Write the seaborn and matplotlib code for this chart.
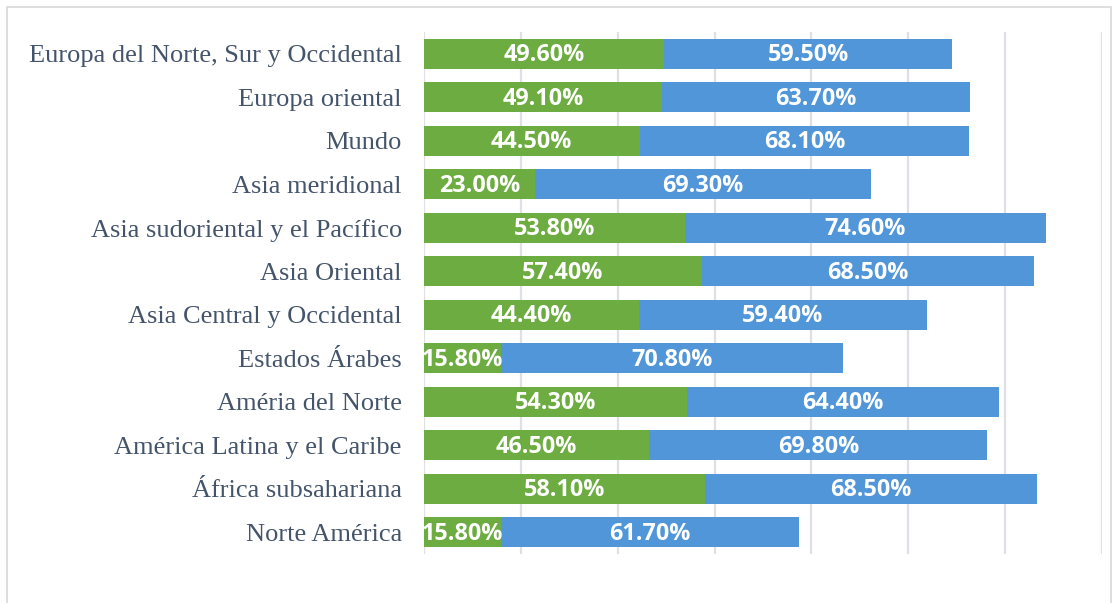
import matplotlib
matplotlib.use("Agg")
import matplotlib.pyplot as plt
import seaborn as sns
import pandas as pd
from matplotlib.patches import Rectangle

# data (top to bottom)
regiones = ["Europa del Norte, Sur y Occidental", "Europa oriental", "Mundo",
            "Asia meridional", "Asia sudoriental y el Pacífico", "Asia Oriental",
            "Asia Central y Occidental", "Estados Árabes", "Améria del Norte",
            "América Latina y el Caribe", "África subsahariana", "Norte América"]
serie_verde = [49.6, 49.1, 44.5, 23.0, 53.8, 57.4, 44.4, 15.8, 54.3, 46.5, 58.1, 15.8]
serie_azul = [59.5, 63.7, 68.1, 69.3, 74.6, 68.5, 59.4, 70.8, 64.4, 69.8, 68.5, 61.7]

df = pd.DataFrame({"region": regiones, "verde": serie_verde, "azul": serie_azul})
df["total"] = df["verde"] + df["azul"]

sns.set_style("white")

fig = plt.figure(figsize=(11.2, 6.03), dpi=100)
ax = fig.add_axes([0.3786, 0.0813, 0.6054, 0.8657])

# stacked: total in blue, then green on top
sns.barplot(data=df, x="total", y="region", orient="h", color="#5096d8",
            width=0.69, saturation=1, linewidth=0, ax=ax, zorder=2)
sns.barplot(data=df, x="verde", y="region", orient="h", color="#6cac40",
            width=0.69, saturation=1, linewidth=0, ax=ax, zorder=3)

ax.set_xlim(0, 140)
ax.set_xticks(range(0, 141, 20))
ax.xaxis.grid(True, color="#dde1e6", linewidth=1.6, zorder=0)
ax.set_axisbelow(True)
ax.set_xticklabels([])
ax.tick_params(axis="x", length=0)
ax.tick_params(axis="y", length=0, pad=22)
ax.set_xlabel("")
ax.set_ylabel("")
for s in ax.spines.values():
    s.set_visible(False)
ax.tick_params(axis="y", pad=16)

for lbl in ax.get_yticklabels():
    lbl.set_fontfamily("Liberation Serif")
    lbl.set_fontsize(19)
    lbl.set_color("#44546a")

lab_font = dict(color="white", fontweight="bold", fontsize=16.8,
                family=["Open Sans", "DejaVu Sans"], ha="center", va="center", zorder=5)
for i, (v, a) in enumerate(zip(serie_verde, serie_azul)):
    ax.text(v / 2, i + 0.04, f"{v:.2f}%", **lab_font)
    ax.text(v + a / 2, i + 0.04, f"{a:.2f}%", **lab_font)

# chart area border
fig.patches.append(Rectangle((7 / 1120, -0.01), 1104 / 1120, 1 - 7 / 603 + 0.01,
                             transform=fig.transFigure, fill=False,
                             edgecolor="#d9d9d9", linewidth=1.2))

fig.savefig("out.png", dpi=100)
